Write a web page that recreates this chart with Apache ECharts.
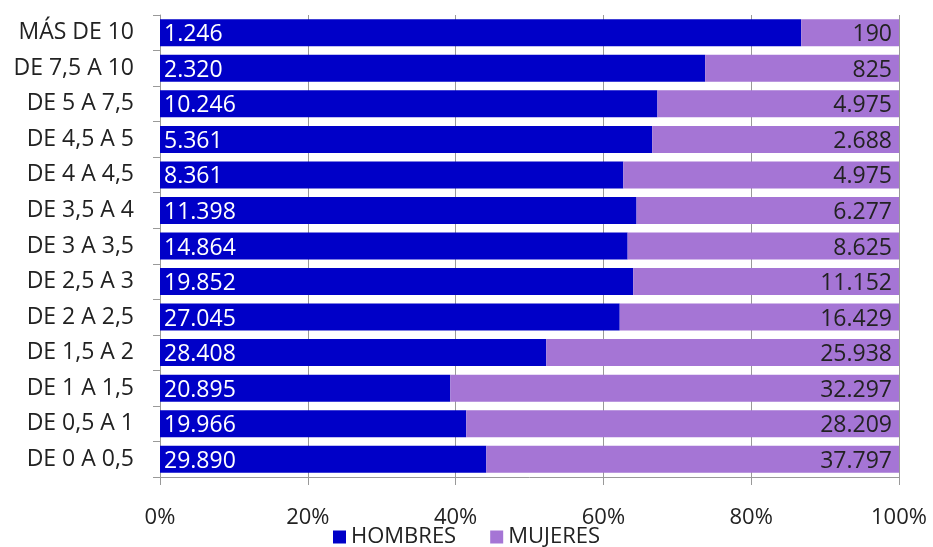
<!DOCTYPE html>
<html><head><meta charset="utf-8">
<script src="https://cdn.jsdelivr.net/npm/echarts@6/dist/echarts.min.js"></script>
<style>html,body{margin:0;padding:0;background:#fff}#c{width:933px;height:547px}</style>
</head><body><div id="c"></div>
<script>
const categories = ["DE 0 A 0,5","DE 0,5 A 1","DE 1 A 1,5","DE 1,5 A 2","DE 2 A 2,5","DE 2,5 A 3","DE 3 A 3,5","DE 3,5 A 4","DE 4 A 4,5","DE 4,5 A 5","DE 5 A 7,5","DE 7,5 A 10","MÁS DE 10"];
const hombres = [29890,19966,20895,28408,27045,19852,14864,11398,8361,5361,10246,2320,1246];
const mujeres = [37797,28209,32297,25938,16429,11152,8625,6277,4975,2688,4975,825,190];
const xTicks = [0,20,40,60,80,100];

const fmt = v => String(v).replace(/\B(?=(\d{3})+(?!\d))/g, '.');
const hPct = hombres.map((h,i)=>({value: h/(h+mujeres[i])*100, raw: h}));
const mPct = mujeres.map((m,i)=>({value: m/(hombres[i]+m)*100, raw: m}));
const font = '"Open Sans", Lato, sans-serif';

const chart = echarts.init(document.getElementById('c'));
chart.setOption({
  animation:false,
  textStyle:{fontFamily:font},
  grid:{left:160,right:34,top:15,bottom:70,containLabel:false},
  legend:{bottom:-6,left:'center',itemWidth:13,itemHeight:13,itemGap:34,icon:'rect',
    textStyle:{fontSize:22,color:'#222',fontFamily:font},
    data:['HOMBRES','MUJERES']},
  xAxis:{type:'value',min:0,max:100,interval:20,
    axisLabel:{formatter:v=>v+'%',fontSize:22,color:'#222',margin:30,fontFamily:font},
    axisLine:{show:true,lineStyle:{color:'#999'}},
    axisTick:{show:true,length:8,lineStyle:{color:'#999'}},
    splitLine:{show:true,lineStyle:{color:'#999'}}},
  yAxis:{type:'category',data:categories,
    axisLabel:{fontSize:23,color:'#222',margin:26,fontFamily:font},
    axisLine:{show:true,lineStyle:{color:'#999'}},
    axisTick:{show:true,length:7,lineStyle:{color:'#999'}}},
  series:[
    {name:'HOMBRES',type:'bar',stack:'t',data:hPct,barCategoryGap:'24%',
     itemStyle:{color:'#0000C8'},
     label:{show:true,position:'insideLeft',color:'#fff',fontSize:23,fontFamily:font,offset:[-1,2],
       formatter:p=>fmt(p.data.raw)}},
    {name:'MUJERES',type:'bar',stack:'t',data:mPct,
     itemStyle:{color:'#A575D5'},
     label:{show:true,position:'insideRight',color:'#222',fontSize:23,fontFamily:font,offset:[-2,2],
       formatter:p=>fmt(p.data.raw)}}
  ]
});
</script></body></html>
